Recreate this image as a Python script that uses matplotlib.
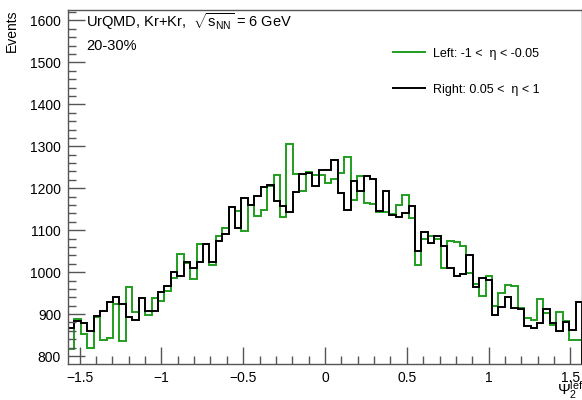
import numpy as np
import matplotlib
matplotlib.use('Agg')
import matplotlib.pyplot as plt
from matplotlib.ticker import MultipleLocator, FuncFormatter

plt.rcParams['font.family'] = ['Liberation Sans', 'DejaVu Sans']
plt.rcParams['mathtext.fontset'] = 'custom'
plt.rcParams['mathtext.rm'] = 'Liberation Sans'
plt.rcParams['mathtext.it'] = 'Liberation Sans:italic'

# 80 bins over [-pi/2, pi/2]
n_bins = 80
x_min, x_max = -np.pi / 2, np.pi / 2

left_counts = [817, 888, 853, 820, 893, 839, 843, 923, 836, 964,
               904, 938, 897, 938, 932, 956, 986, 1044, 1022, 984,
               1066, 1067, 1016, 1086, 1105, 1155, 1145, 1098, 1161, 1133,
               1147, 1205, 1231, 1131, 1306, 1234, 1193, 1239, 1232, 1231,
               1213, 1223, 1236, 1275, 1171, 1230, 1165, 1163, 1143, 1143,
               1139, 1160, 1183, 1129, 1018, 1080, 1086, 1080, 1010, 1074,
               1072, 1062, 998, 971, 943, 990, 919, 951, 969, 967,
               915, 890, 887, 937, 903, 874, 906, 883, 838, 838]

right_counts = [866, 884, 878, 860, 896, 908, 930, 940, 923, 894,
                887, 938, 907, 907, 952, 966, 1000, 990, 1023, 1010,
                1024, 1067, 1024, 1074, 1092, 1155, 1105, 1177, 1161, 1181,
                1202, 1207, 1169, 1157, 1143, 1190, 1234, 1236, 1205, 1244,
                1244, 1268, 1189, 1149, 1217, 1193, 1229, 1222, 1145, 1193,
                1136, 1131, 1141, 1157, 1050, 1096, 1070, 1086, 1062, 1010,
                990, 996, 1040, 965, 985, 982, 898, 917, 940, 915,
                911, 871, 866, 879, 911, 879, 859, 882, 861, 929]

label_left = 'Left: -1 <  η < -0.05'
label_right = 'Right: 0.05 <  η < 1'

edges = np.linspace(x_min, x_max, n_bins + 1)

fig = plt.figure(figsize=(5.82, 4.0), dpi=100)
ax = fig.add_axes([68 / 582, 1 - 364 / 400, 1 - 68 / 582, (364 - 10) / 400])

ax.stairs(left_counts, edges, color='#1f9e1f', lw=1.4, label=label_left)
ax.stairs(right_counts, edges, color='black', lw=1.4, label=label_right)

ax.set_xlim(x_min, x_max)
ax.set_ylim(781, 1625)

ax.xaxis.set_major_locator(MultipleLocator(0.5))
ax.xaxis.set_minor_locator(MultipleLocator(0.1))
ax.xaxis.set_major_formatter(
    FuncFormatter(lambda v, pos: ('%g' % round(v, 3)).replace('-', '\u2212')))
ax.yaxis.set_major_locator(MultipleLocator(100))
ax.yaxis.set_minor_locator(MultipleLocator(20))
ax.tick_params(which='both', direction='in', top=False, right=False,
               color='#555555', labelsize=10)
ax.tick_params(which='major', length=12, width=1)
ax.tick_params(which='minor', length=6, width=1)
ax.tick_params(axis='x', pad=5)
ax.tick_params(axis='y', pad=5)
for s in ax.spines.values():
    s.set_color('#555555')
    s.set_linewidth(1)

ax.set_ylabel('Events', fontsize=10)
ax.yaxis.set_label_coords(-0.095, 1.0)
ax.yaxis.label.set_ha('right')

fig.text(557 / 582, 1 - 395 / 400, r'$\Psi_2^{\rm left}$', fontsize=11,
         ha='left', va='baseline')

ax.text(0.035, 0.966, r'UrQMD, Kr+Kr,  $\sqrt{\mathrm{s}_{\rm NN}}$ = 6 GeV',
        transform=ax.transAxes, fontsize=10.5, va='center')
ax.text(0.035, 0.898, '20-30%', transform=ax.transAxes, fontsize=10.5,
        va='center')

ax.legend(loc='upper left', bbox_to_anchor=(0.61, 0.925), frameon=False,
          fontsize=9, handlelength=2.6, labelspacing=1.9, handletextpad=0.6)

fig.savefig('out.png', dpi=100)
